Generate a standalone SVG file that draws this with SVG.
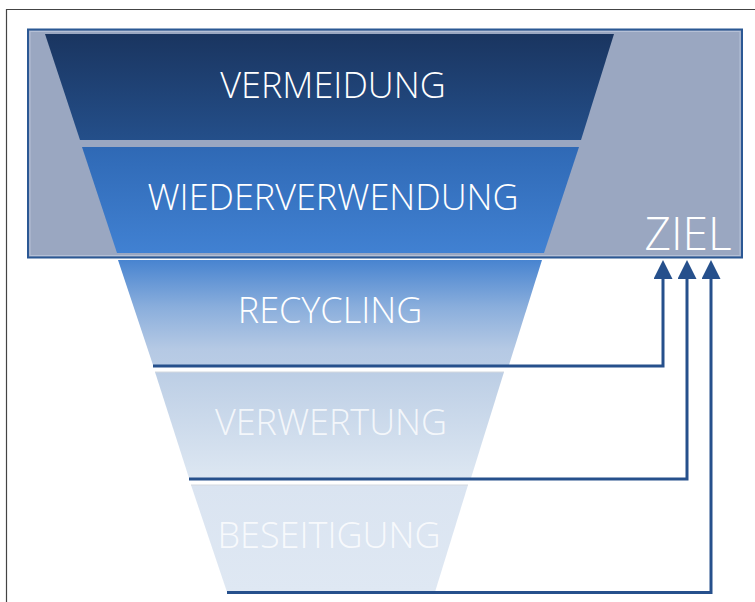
<svg xmlns="http://www.w3.org/2000/svg" width="755" height="602" viewBox="0 0 755 602">
  <defs>
    <linearGradient id="g1" x1="0" y1="0" x2="0" y2="1">
      <stop offset="0" stop-color="#1a3560"/>
      <stop offset="1" stop-color="#244f8a"/>
    </linearGradient>
    <linearGradient id="g2" x1="0" y1="0" x2="0" y2="1">
      <stop offset="0" stop-color="#2f69b5"/>
      <stop offset="1" stop-color="#4181d2"/>
    </linearGradient>
    <linearGradient id="g3" x1="0" y1="0" x2="0" y2="1">
      <stop offset="0" stop-color="#4884d0"/>
      <stop offset="0.45" stop-color="#8aaedc"/>
      <stop offset="0.85" stop-color="#b5c9e4"/>
      <stop offset="1" stop-color="#b9cce5"/>
    </linearGradient>
    <linearGradient id="g4" x1="0" y1="0" x2="0" y2="1">
      <stop offset="0" stop-color="#bccee5"/>
      <stop offset="1" stop-color="#dde7f2"/>
    </linearGradient>
    <linearGradient id="g5" x1="0" y1="0" x2="0" y2="1">
      <stop offset="0" stop-color="#dae4f1"/>
      <stop offset="1" stop-color="#dfe8f3"/>
    </linearGradient>
    <marker id="arr" markerWidth="19" markerHeight="19" refX="0" refY="9.5" orient="auto" markerUnits="userSpaceOnUse" viewBox="0 0 19 19">
      <path d="M0,0 L19,9.5 L0,19 Z" fill="#26508c"/>
    </marker>
    <style>
      .lbl { font-family: "Open Sans", "Segoe UI", "Liberation Sans", sans-serif; font-weight: 300; fill: #ffffff; text-anchor: middle; }
      .big { font-size: 36px; }
      .faint { fill-opacity: 0.8; }
      .conn { fill: none; stroke: #26508c; stroke-width: 3; }
    </style>
  </defs>
  <rect width="755" height="602" fill="#ffffff"/>
  <!-- outer frame -->
  <path d="M6.5,602 V9.5 H755" fill="none" stroke="#444444" stroke-width="1.2"/>

  <g id="ziel-box">
    <rect x="28" y="29.5" width="714" height="228" fill="#9aa7c1" stroke="#2b5894" stroke-width="2"/>
    <rect x="30" y="31.5" width="710" height="224" fill="none" stroke="#b5c0d6" stroke-width="1"/>
    <text class="lbl" x="688" y="250" font-size="46">ZIEL</text>
  </g>

  <g id="vermeidung">
    <polygon points="45,34 614,34 581,140 80,140" fill="url(#g1)"/>
    <text class="lbl big" x="333" y="98">VERMEIDUNG</text>
  </g>
  <g id="wiederverwendung">
    <polygon points="82,147 579,147 544,253 117,253" fill="url(#g2)"/>
    <text class="lbl big" x="333" y="210">WIEDERVERWENDUNG</text>
  </g>
  <g id="recycling">
    <polygon points="118,260 542,260 509,365 153,365" fill="url(#g3)"/>
    <text class="lbl big" x="330" y="323">RECYCLING</text>
  </g>
  <g id="verwertung">
    <polygon points="155,372 504,372 471,478 189,478" fill="url(#g4)"/>
    <line x1="155" y1="372" x2="504" y2="372" stroke="#d3d8df" stroke-width="1"/>
    <text class="lbl big faint" x="331" y="435">VERWERTUNG</text>
  </g>
  <g id="beseitigung">
    <polygon points="191,485 468,485 435,592 227,592" fill="url(#g5)"/>
    <line x1="191" y1="485" x2="468" y2="485" stroke="#d3d8df" stroke-width="1"/>
    <text class="lbl big faint" x="329" y="548">BESEITIGUNG</text>
  </g>

  <g id="connectors">
    <path class="conn" d="M153,366 H663 V279" marker-end="url(#arr)"/>
    <path class="conn" d="M189,479 H687 V279" marker-end="url(#arr)"/>
    <path class="conn" d="M227,592.5 H711 V279" marker-end="url(#arr)"/>
  </g>
</svg>
